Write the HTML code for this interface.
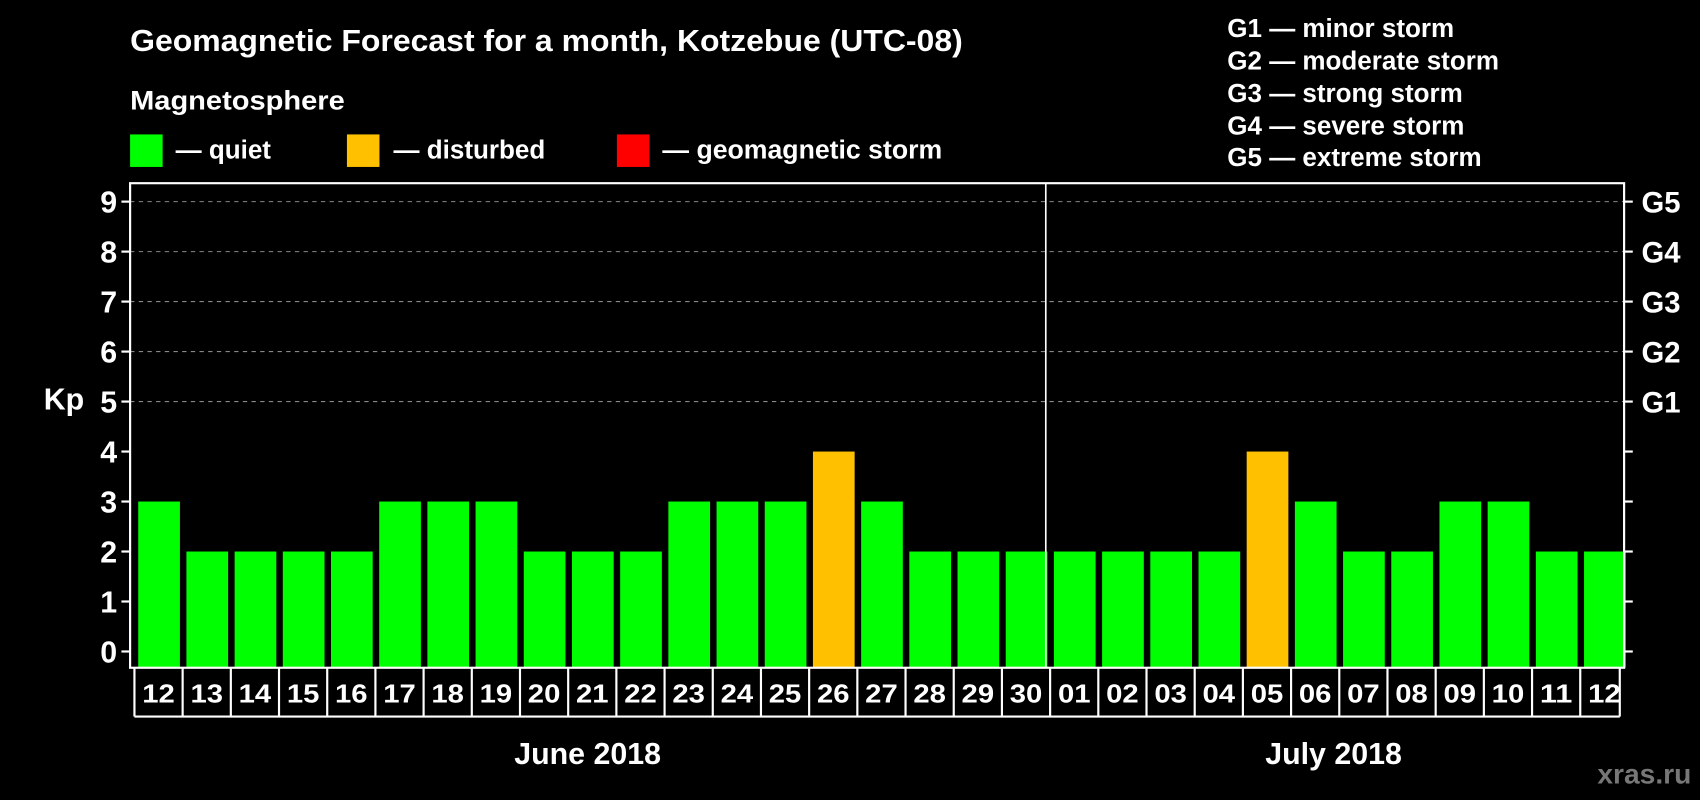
<!DOCTYPE html>
<html><head><meta charset="utf-8"><style>
html,body{margin:0;padding:0;background:#000;}
svg{display:block;}
text{font-family:"Liberation Sans",Arial,sans-serif;font-weight:bold;fill:#fff;}
</style></head><body>
<svg id="chart" width="1700" height="800" viewBox="0 0 1568 738" preserveAspectRatio="none" xmlns="http://www.w3.org/2000/svg">
<rect x="0" y="0" width="1568" height="738" fill="#000"/>
<text x="120" y="47" font-size="28" textLength="768" lengthAdjust="spacingAndGlyphs">Geomagnetic Forecast for a month, Kotzebue (UTC-08)</text>
<text x="120" y="101" font-size="25" textLength="198" lengthAdjust="spacingAndGlyphs">Magnetosphere</text>
<rect x="120" y="124" width="30" height="30" fill="#00ff00"/>
<text x="162" y="146" font-size="24">— quiet</text>
<rect x="320" y="124" width="30" height="30" fill="#ffc000"/>
<text x="363" y="146" font-size="24">— disturbed</text>
<rect x="569" y="124" width="30" height="30" fill="#ff0000"/>
<text x="611" y="146" font-size="24" textLength="258" lengthAdjust="spacingAndGlyphs">— geomagnetic storm</text>
<g font-size="24">
<text x="1132" y="34">G1 — minor storm</text>
<text x="1132" y="64">G2 — moderate storm</text>
<text x="1132" y="94">G3 — strong storm</text>
<text x="1132" y="124">G4 — severe storm</text>
<text x="1132" y="153">G5 — extreme storm</text>
</g>
<text x="59" y="378" font-size="28" text-anchor="middle">Kp</text>
<g id="grid"></g>
<g id="bars"></g>
<g id="axes"></g>
<text x="542" y="705" font-size="28" text-anchor="middle">June 2018</text>
<text x="1230" y="705" font-size="28" text-anchor="middle">July 2018</text>
<text x="1560" y="723" font-size="26" text-anchor="end" style="fill:#777">xras.ru</text>
</svg>
<script>
const days = ["12","13","14","15","16","17","18","19","20","21","22","23","24","25","26","27","28","29","30","01","02","03","04","05","06","07","08","09","10","11","12"];
const kpValues = [3,2,2,2,2,3,3,3,2,2,2,3,3,3,4,3,2,2,2,2,2,2,2,4,3,2,2,3,3,2,2];
const yTicks = [0,1,2,3,4,5,6,7,8,9];
const gLabels = ["G1","G2","G3","G4","G5"];
const gLevels = [5,6,7,8,9];
const monthSplit = 19;

const NS = "http://www.w3.org/2000/svg";
const L = 120, R = 1498, T = 169, B = 616, Y0 = 601, Y9 = 186;
const step = (R - L) / days.length;
function xPos(i){ return L + i * step; }
function yPos(v){ return Y0 - (Y0 - Y9) * v / 9; }
function mk(tag, attrs, parent){ const e = document.createElementNS(NS, tag); for (const k in attrs) e.setAttribute(k, attrs[k]); parent.appendChild(e); return e; }
const grid = document.getElementById("grid"), bars = document.getElementById("bars"), axes = document.getElementById("axes");

gLevels.forEach((lv, i) => {
  const ln = mk("line", {x1:L, x2:R, y1:yPos(lv), y2:yPos(lv), stroke:"#888", "stroke-width":1, "stroke-dasharray":"4,4"}, grid);
  
  
  const t = mk("text", {x:R + 16, y:yPos(lv) + 10, "font-size":27}, axes);
  t.textContent = gLabels[i];
  
  
});

kpValues.forEach((v, i) => {
  const color = v >= 5 ? "#ff0000" : (v >= 4 ? "#ffc000" : "#00ff00");
  const r = mk("rect", {x:xPos(i) + 7.5, y:yPos(v), width:step - 6, height:B - yPos(v), fill:color}, bars);
  
  
});

mk("rect", {x:L, y:T, width:R - L, height:B - T, fill:"none", stroke:"#fff", "stroke-width":2}, axes);
mk("line", {x1:xPos(monthSplit), x2:xPos(monthSplit), y1:T, y2:B, stroke:"#fff", "stroke-width":1.5}, axes);

yTicks.forEach(v => {
  const y = yPos(v);
  mk("line", {x1:L - 8, x2:L, y1:y, y2:y, stroke:"#fff", "stroke-width":2}, axes);
  mk("line", {x1:R, x2:R + 8, y1:y, y2:y, stroke:"#fff", "stroke-width":2}, axes);
  const t = mk("text", {x:L - 12, y:y + 10, "font-size":28, "text-anchor":"end"}, axes);
  t.textContent = v;
  
  
});

const BT = 616, BB = 661;
mk("line", {x1:xPos(0) + 4, x2:xPos(days.length) - 4, y1:BB, y2:BB, stroke:"#fff", "stroke-width":2}, axes);
days.forEach((d, i) => {
  const bx = xPos(i) + 4;
  mk("line", {x1:bx, x2:bx, y1:BT, y2:BB, stroke:"#fff", "stroke-width":2}, axes);
  const t = mk("text", {x:xPos(i) + step / 2 + 4, y:648, "font-size":24, "text-anchor":"middle", textLength:30, lengthAdjust:"spacingAndGlyphs"}, axes);
  t.textContent = d;
  
  
});
mk("line", {x1:xPos(days.length) - 4, x2:xPos(days.length) - 4, y1:BT, y2:BB, stroke:"#fff", "stroke-width":2}, axes);
</script>
</body></html>
